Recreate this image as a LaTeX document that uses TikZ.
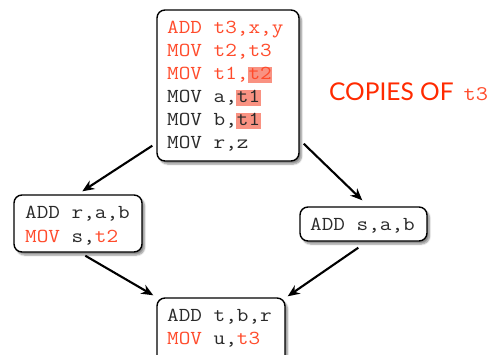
\documentclass[tikz,border=0pt]{standalone}
\usepackage{fontspec}
\setmainfont{Latin Modern Mono}[FakeStretch=1.14]
\newfontfamily\titlefont{Lato}
\usetikzlibrary{arrows.meta,shadows.blur,calc}
\definecolor{redtxt}{HTML}{FF4B2B}
\definecolor{titlered}{HTML}{FF2A00}
\definecolor{hlc}{HTML}{F99282}
\definecolor{darktxt}{HTML}{2A2A2A}
\newcommand\hlt[1]{{\setlength{\fboxsep}{0pt}\kern-0.5pt\colorbox{hlc}{\rule[-3.5pt]{0pt}{15.5pt}\kern0.5pt#1\kern0.5pt}}}
\newcommand\rd[1]{\textcolor{redtxt}{#1}}
\begin{document}
\begin{tikzpicture}[x=1pt,y=-1pt,
  box/.style={draw=black,line width=1.4pt,fill=white,rounded corners=8pt,
    inner sep=0pt,blur shadow={shadow xshift=2.5pt,shadow yshift=-3pt,shadow blur steps=6,shadow opacity=45}},
  code/.style={anchor=base west,inner sep=0pt,font=\fontsize{19.8}{22}\selectfont,text=darktxt},
  arr/.style={line width=2.1pt,-{Stealth[length=12pt,width=10pt]}},
  title/.style={anchor=base west,inner sep=0pt,text=titlered}]
\useasboundingbox (0,0) rectangle (500,354);
% boxes
\node[box,minimum width=142pt,minimum height=151pt] (top) at (228,85.5) {};
\node[box,minimum width=128pt,minimum height=57pt] (left) at (78,223.5) {};
\node[box,minimum width=127pt,minimum height=34pt] (right) at (363.5,224) {};
\node[box,minimum width=128pt,minimum height=70pt] (bot) at (221,333) {};
% top box text
\node[code] (t1) at (167,33) {\rd{ADD t3,x,y}};
\node[code] (t2) at (167,56) {\rd{MOV t2,t3}};
\node[code] (t3) at (167,79) {\rd{MOV t1,}\hlt{\rd{t2}}};
\node[code] (t4) at (167,102) {MOV a,\hlt{t1}};
\node[code] (t5) at (167,125) {MOV b,\hlt{t1}};
\node[code] (t6) at (167,148) {MOV r,z};
% left box
\node[code] (l1) at (25,218) {ADD r,a,b};
\node[code] (l2) at (25,242) {\rd{MOV} s,\rd{t2}};
% right box
\node[code] (r1) at (310,230) {ADD s,a,b};
% bottom box
\node[code] (b1) at (167,321) {ADD t,b,r};
\node[code] (b2) at (167,344) {\rd{MOV} u,\rd{t3}};
% title
\node[title] (cap) at (329,100) {{\titlefont\fontsize{24.5}{27}\selectfont COPIES OF}\hspace{10pt}{\fontsize{20.8}{24}\selectfont\textcolor{redtxt}{t3}}};
% arrows
\draw[arr] ([shift={(-4,-16)}]top.south west) -- ([shift={(69,-3)}]left.north west);
\draw[arr] ([shift={(4,-18)}]top.south east) -- ([shift={(63,-6)}]right.north west);
\draw[arr] ([shift={(72,3)}]left.south west) -- ([shift={(-3,-2)}]bot.north west);
\draw[arr] ([shift={(59,6)}]right.south west) -- ([shift={(2,-1)}]bot.north east);
\end{tikzpicture}
\end{document}
